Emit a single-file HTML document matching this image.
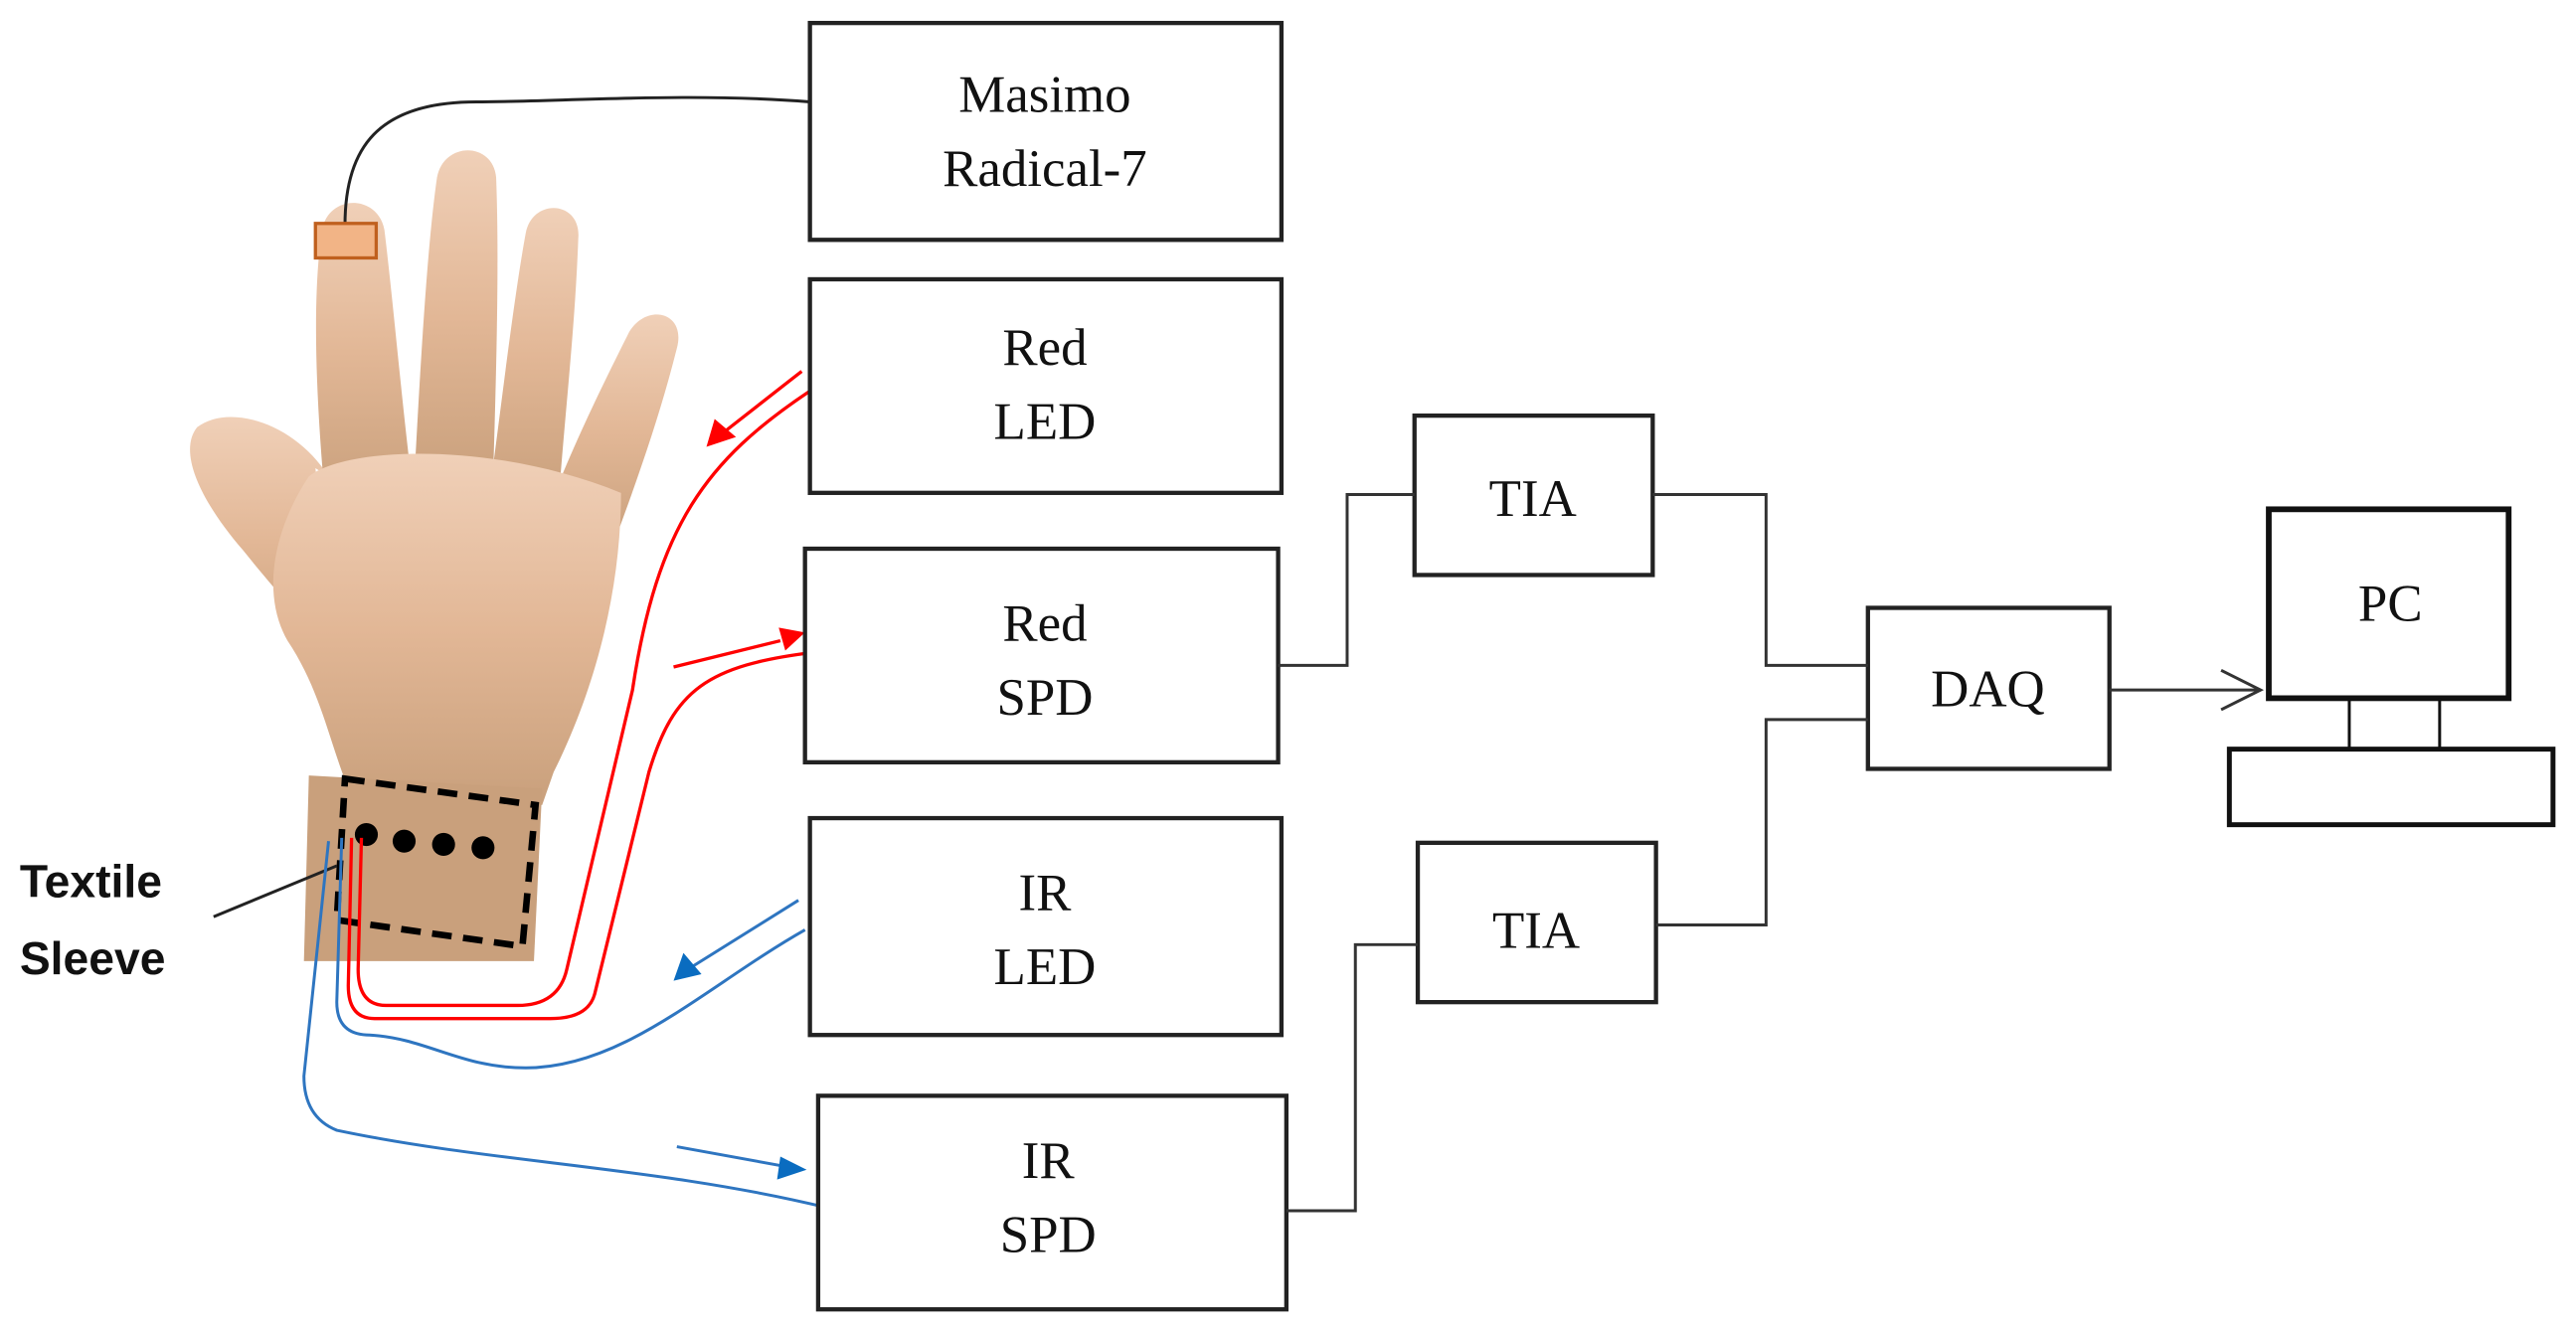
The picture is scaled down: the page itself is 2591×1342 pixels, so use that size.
<!DOCTYPE html>
<html><head><meta charset="utf-8"><style>
html,body{margin:0;padding:0;background:#fff;}
svg{display:block;}
.bx{fill:#fff;stroke:#222;stroke-width:2.6;}
.t{font-family:"Liberation Serif",serif;font-size:32px;fill:#111;text-anchor:middle;}
.w{fill:none;stroke:#222;stroke-width:1.8;}
</style></head><body>
<svg width="2591" height="1342" viewBox="0 0 1568 812" preserveAspectRatio="none" xmlns="http://www.w3.org/2000/svg">
<defs>
<linearGradient id="sk" x1="0" y1="0" x2="0" y2="1">
<stop offset="0" stop-color="#f0d0b8"/><stop offset="0.5" stop-color="#e2b796"/><stop offset="1" stop-color="#c9a07c"/>
</linearGradient>
</defs>
<!-- hand -->
<g fill="url(#sk)">
<path d="M200,290 C180,258 140,245 120,260 C108,275 122,305 148,335 C172,365 192,385 205,405 L192,285 Z"/>
<path d="M198,305 C192,240 190,180 196,140 C200,118 230,118 234,140 C240,190 244,240 252,305 Z"/>
<path d="M252,295 C256,220 260,150 266,108 C270,86 300,86 302,108 C304,160 302,230 300,295 Z"/>
<path d="M298,300 C306,240 313,180 320,142 C324,120 354,122 352,145 C350,200 344,250 340,305 Z"/>
<path d="M332,315 C348,272 368,232 383,202 C394,184 418,190 412,212 C402,252 388,292 372,335 Z"/>
<path d="M188,290 C210,272 300,268 378,300 C378,360 362,420 337,470 L330,490 L212,480 C200,450 195,420 175,390 C158,360 168,320 188,290 Z"/>
<path d="M188,472 L330,480 L325,585 L185,585 Z" fill="#c9a07c"/>
</g>
<!-- sleeve -->
<path d="M210,474 L326,490 L318,576 L205,560 Z" fill="none" stroke="#000" stroke-width="4" stroke-dasharray="12,7"/>
<circle cx="223" cy="508" r="7"/><circle cx="246" cy="512" r="7"/><circle cx="270" cy="514" r="7"/><circle cx="294" cy="516" r="7"/>
<!-- textile label -->
<text x="12" y="546" font-family="Liberation Sans,sans-serif" font-weight="bold" font-size="28" fill="#111">Textile</text>
<text x="12" y="593" font-family="Liberation Sans,sans-serif" font-weight="bold" font-size="28" fill="#111">Sleeve</text>
<line x1="130" y1="558" x2="205" y2="527" stroke="#222" stroke-width="1.8"/>
<!-- masimo sensor cable -->
<path d="M210,137 C210,90 230,62 290,62 C340,62 420,56 493,62" class="w" stroke="#111"/>
<rect x="192" y="136" width="37" height="21" fill="#f2b486" stroke="#c0601e" stroke-width="2"/>
<!-- red wires -->
<g fill="none" stroke="#f00" stroke-width="2">
<path d="M493,238 C430,280 400,320 385,420 L345,590 Q340,612 315,612 L235,612 Q218,612 218,590 L220,510"/>
<path d="M496,397 C430,405 410,420 395,470 L362,605 Q358,620 335,620 L228,620 Q212,620 212,600 L214,510"/>
<line x1="488" y1="226" x2="442" y2="262"/>
<line x1="410" y1="406" x2="475" y2="390"/>
</g>
<polygon points="430,272 435,255 448,266" fill="#f00"/>
<polygon points="490,385 474,382 478,396" fill="#f00"/>
<!-- blue wires -->
<g fill="none" stroke="#2e75c0" stroke-width="1.8">
<path d="M490,566 C430,600 380,650 320,650 C280,650 260,632 225,630 Q205,630 205,610 L208,510"/>
<path d="M503,735 C400,710 300,708 205,688 Q185,680 185,655 L200,512"/>
<line x1="486" y1="548" x2="422" y2="588"/>
<line x1="412" y1="698" x2="478" y2="710"/>
</g>
<polygon points="410,597 416,580 427,593" fill="#0a6cc0"/>
<polygon points="491,712 475,704 473,718" fill="#0a6cc0"/>
<!-- boxes -->
<rect class="bx" x="493" y="14" width="287" height="132"/>
<text class="t" x="636" y="68">Masimo</text><text class="t" x="636" y="113">Radical-7</text>
<rect class="bx" x="493" y="170" width="287" height="130"/>
<text class="t" x="636" y="222">Red</text><text class="t" x="636" y="267">LED</text>
<rect class="bx" x="490" y="334" width="288" height="130"/>
<text class="t" x="636" y="390">Red</text><text class="t" x="636" y="435">SPD</text>
<rect class="bx" x="493" y="498" width="287" height="132"/>
<text class="t" x="636" y="554">IR</text><text class="t" x="636" y="599">LED</text>
<rect class="bx" x="498" y="667" width="285" height="130"/>
<text class="t" x="638" y="717">IR</text><text class="t" x="638" y="762">SPD</text>
<rect class="bx" x="861" y="253" width="145" height="97"/>
<text class="t" x="933" y="314">TIA</text>
<rect class="bx" x="863" y="513" width="145" height="97"/>
<text class="t" x="935" y="577">TIA</text>
<rect class="bx" x="1137" y="370" width="147" height="98"/>
<text class="t" x="1210" y="430">DAQ</text>
<!-- connectors -->
<g fill="none" stroke="#333" stroke-width="1.8">
<polyline points="778,405 820,405 820,301 861,301"/>
<polyline points="1006,301 1075,301 1075,405 1137,405"/>
<polyline points="1137,438 1075,438 1075,563 1008,563"/>
<polyline points="863,575 825,575 825,737 783,737"/>
<line x1="1284" y1="420" x2="1376" y2="420"/>
<polyline points="1352,408 1376,420 1352,432"/>
</g>
<!-- PC -->
<rect x="1381" y="310" width="146" height="115" fill="#fff" stroke="#111" stroke-width="3.5"/>
<text class="t" x="1455" y="378">PC</text>
<line x1="1430" y1="425" x2="1430" y2="456" stroke="#111" stroke-width="1.8"/>
<line x1="1485" y1="425" x2="1485" y2="456" stroke="#111" stroke-width="1.8"/>
<rect x="1357" y="456" width="197" height="46" fill="#fff" stroke="#111" stroke-width="3"/>
</svg>
</body></html>
